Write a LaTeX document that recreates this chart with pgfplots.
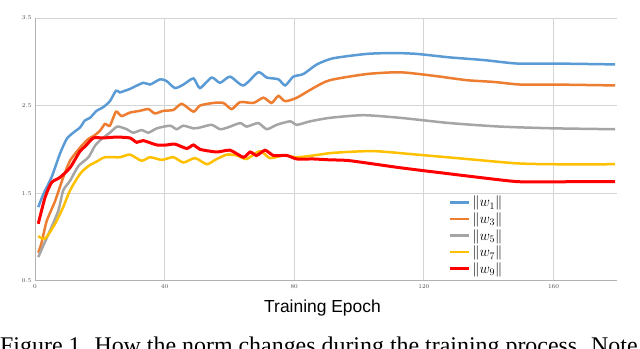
\documentclass[border=0pt]{standalone}
\usepackage{fontspec}
\setmainfont{Liberation Sans}
\newfontfamily\capfont{Liberation Serif}
\usepackage{pgfplots}
\pgfplotsset{compat=1.18}

\definecolor{cw1}{RGB}{91,155,213}
\definecolor{cw3}{RGB}{237,125,49}
\definecolor{cw5}{RGB}{165,165,165}
\definecolor{cw7}{RGB}{255,192,0}
\definecolor{cw9}{RGB}{255,0,0}

\begin{document}
\begin{tikzpicture}
  \useasboundingbox (0,0) rectangle (640bp,349bp);
  \clip (0,0) rectangle (640bp,349bp);
  \begin{axis}[
      at               = {(35bp,68.3bp)},
      anchor           = south west,
      scale only axis,
      width            = 582bp,
      height           = 262.7bp,
      xmin             = 0,
      xmax             = 179.6,
      ymin             = 0.5,
      ymax             = 3.5,
      xtick            = {0,40,80,120,160},
      ytick            = {0.5,1.5,2.5,3.5},
      yticklabel style = {/pgf/number format/.cd, fixed, fixed zerofill, precision=1},
      ticklabel style  = {font=\fontsize{6}{6}\selectfont, text=black!70},
      major tick length = 0pt,
      axis x line*     = bottom,
      axis y line*     = left,
      axis line style  = {black!30, line width=0.8pt},
      grid             = major,
      grid style       = {black!17, line width=0.8pt},
      legend cell align = left,
      legend style     = {at={(axis description cs:0.71,0.33)}, anchor=north west,
                          draw=none, fill=none, font=\fontsize{14}{14}\selectfont,
                          row sep=0.4bp, inner sep=0pt},
      legend image code/.code = {\draw[#1] (0bp,0bp) -- (19bp,0bp);},
      every axis plot/.append style = {line width=2.5bp, smooth, tension=0.4, mark=none},
    ]

    % ||w1||
    \addplot[cw1] coordinates {
      (1,1.34) (2.6,1.49) (5.1,1.68) (7.7,1.95) (9.8,2.12) (11.8,2.19) (13.9,2.25)
      (15.4,2.33) (17,2.36) (19,2.44) (21,2.48) (23.1,2.55) (25,2.67) (26.2,2.65)
      (27.8,2.67) (29.3,2.69) (33.4,2.76) (35.5,2.74) (38.6,2.80) (40.6,2.78)
      (43.2,2.70) (45.8,2.74) (48.9,2.81) (50.9,2.70) (54.5,2.82) (57.1,2.76)
      (60.2,2.83) (64.3,2.73) (68.9,2.88) (71.5,2.82) (75.1,2.80) (77.2,2.73)
      (79.7,2.83) (82.8,2.86) (87,2.97) (92,3.04) (102.4,3.09) (110.6,3.10)
      (117.8,3.09) (128,3.05) (138.4,3.02) (148.7,2.98) (160,2.98) (179,2.97)
    };
    \addlegendentry{$\|w_1\|$}

    % ||w3||
    \addplot[cw3] coordinates {
      (1,0.82) (2,0.93) (3.6,1.18) (6.2,1.41) (8.7,1.68) (10.8,1.87) (13.9,2.02)
      (16.5,2.12) (18,2.15) (20,2.21) (21.6,2.29) (23.1,2.27) (25,2.43) (26.7,2.38)
      (29.3,2.42) (32.4,2.44) (35,2.46) (37,2.41) (39.6,2.44) (42.7,2.45)
      (45.3,2.52) (48.9,2.43) (50.9,2.50) (55,2.53) (58.1,2.53) (60.7,2.46)
      (63.3,2.54) (67.4,2.53) (70.5,2.59) (73,2.53) (75.1,2.61) (77.2,2.55)
      (80.8,2.59) (85.9,2.70) (91,2.79) (102.4,2.86) (112.7,2.88) (123,2.84)
      (133.2,2.79) (141.5,2.77) (149.7,2.74) (160,2.74) (179,2.73)
    };
    \addlegendentry{$\|w_3\|$}

    % ||w5||
    \addplot[cw5] coordinates {
      (1,0.77) (4.6,1.07) (7.2,1.30) (8.7,1.53) (10.8,1.64) (13.4,1.81) (16.5,1.91)
      (18.5,2.04) (20.6,2.12) (23.1,2.19) (25.4,2.26) (28.3,2.23) (30.3,2.19)
      (32.9,2.22) (35,2.19) (37.6,2.24) (41.7,2.27) (43.7,2.23) (45.8,2.27)
      (48.9,2.24) (51,2.25) (54.5,2.28) (57.1,2.23) (59.5,2.25) (63.3,2.30)
      (65.3,2.26) (68.9,2.30) (71.5,2.23) (74.6,2.28) (78.7,2.32) (80.8,2.28)
      (84.9,2.32) (91,2.36) (101.3,2.39) (112.7,2.36) (128,2.30) (143.5,2.26)
      (160,2.24) (179,2.23)
    };
    \addlegendentry{$\|w_5\|$}

    % ||w7||
    \addplot[cw7] coordinates {
      (1,1.01) (3.1,0.98) (6.2,1.15) (8.7,1.34) (10.8,1.53) (13.9,1.72) (16.5,1.81)
      (19,1.86) (21.6,1.91) (26.2,1.91) (29.3,1.94) (32.9,1.87) (35.5,1.91)
      (39.1,1.88) (42.7,1.91) (45.8,1.85) (49.4,1.90) (53,1.83) (55.6,1.88)
      (59.2,1.94) (62.3,1.93) (65.3,1.89) (69.4,1.98) (72.5,1.90) (76.6,1.93)
      (80.8,1.91) (85.9,1.93) (92,1.96) (104.4,1.98) (117.8,1.94) (133.2,1.89)
      (148.7,1.84) (160,1.83) (179,1.83)
    };
    \addlegendentry{$\|w_7\|$}

    % ||w9||
    \addplot[cw9, line width=3bp] coordinates {
      (1,1.15) (3.1,1.45) (5.1,1.62) (7.7,1.68) (10.8,1.79) (13.9,1.98) (15.4,2.03)
      (18,2.13) (21,2.13) (25.2,2.14) (29.3,2.13) (31.4,2.08) (33.4,2.10)
      (37.6,2.05) (40.6,2.05) (43.2,2.06) (46.8,2.01) (48.9,2.05) (50.9,2.00)
      (56.1,1.97) (60.2,1.99) (64.3,1.91) (66.4,1.97) (68.4,1.93) (71,1.99)
      (73.6,1.93) (77.7,1.93) (80.8,1.89) (85.9,1.89) (91,1.88) (97.2,1.87)
      (112.7,1.79) (128,1.72) (141.5,1.66) (149.7,1.63) (164,1.63) (179,1.63)
    };
    \addlegendentry{$\|w_9\|$}
  \end{axis}

  % axis title and the (cut off) caption below the chart
  \node[anchor=base, font=\fontsize{17.5}{18}\selectfont] at (322.5bp,37bp) {Training Epoch};
  \node[anchor=base west, inner sep=0pt, font=\capfont\fontsize{24}{26}\selectfont]
    at (0bp,-4bp) {Figure 1. How the norm changes during the training process. Note};
\end{tikzpicture}
\end{document}
